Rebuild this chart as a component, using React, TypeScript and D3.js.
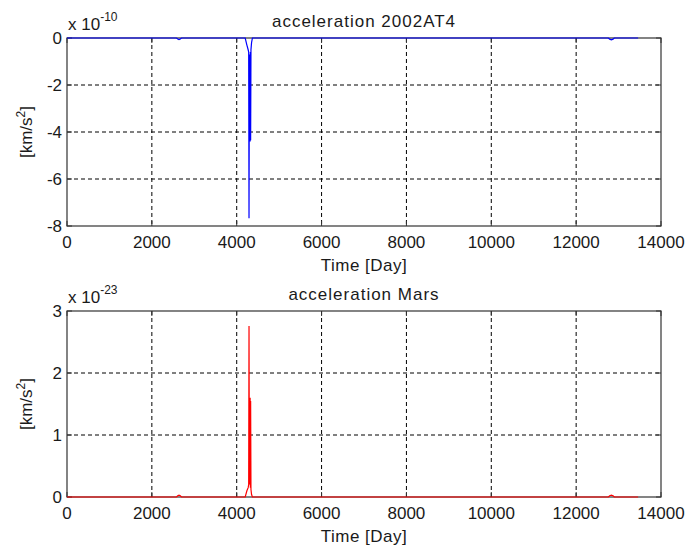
import React from "react";
import * as d3 from "d3";

// x ticks (days)
const xTicks = [0, 2000, 4000, 6000, 8000, 10000, 12000, 14000];

// top panel: acceleration 2002AT4 (units 1e-10 km/s^2)
const topDays = [0, 2580, 2610, 2640, 2670, 2700, 4200, 4240, 4270, 4282, 4290, 4298, 4304, 4310, 4316, 4322, 4328, 4336, 4350, 4370, 12760, 12790, 12830, 12870, 12900, 13460];
const topVals = [0, 0, -0.04, -0.07, -0.04, 0, 0, -0.3, -0.5, -0.6, -7.67, -0.8, -4.4, -0.7, -4.4, -0.6, -4.35, -0.5, -0.2, 0, 0, -0.05, -0.08, -0.05, 0, 0];
const topYTicks = [0, -2, -4, -6, -8];

// bottom panel: acceleration Mars (units 1e-23 km/s^2)
const botDays = [0, 2580, 2610, 2640, 2670, 2700, 4200, 4240, 4270, 4282, 4290, 4298, 4304, 4310, 4316, 4322, 4328, 4336, 4350, 4370, 12760, 12790, 12830, 12870, 12900, 13460];
const botVals = [0, 0, 0.02, 0.03, 0.02, 0, 0, 0.1, 0.15, 0.2, 2.76, 0.2, 1.6, 0.2, 1.6, 0.15, 1.55, 0.12, 0.04, 0, 0, 0.02, 0.03, 0.02, 0, 0];
const botYTicks = [0, 1, 2, 3];

const FONT = "'Liberation Sans', Arial, sans-serif";
const TXT = "#1a1a1a";
const AX = "#333";

type PanelProps = {
  top: number;
  bottom: number;
  title: string;
  exp: string;
  days: number[];
  vals: number[];
  yTicks: number[];
  yDomain: [number, number];
  color: string;
};

function Panel({ top, bottom, title, exp, days, vals, yTicks, yDomain, color }: PanelProps) {
  const left = 67;
  const right = 661;
  const x = d3.scaleLinear().domain([0, 14000]).range([left, right]);
  const y = d3.scaleLinear().domain(yDomain).range([bottom, top]);
  const pts = days.map((d, i) => [d, vals[i]] as [number, number]);
  const line = d3
    .line<[number, number]>()
    .x((d) => x(d[0]))
    .y((d) => y(d[1]));
  const tl = 5;
  const midY = (top + bottom) / 2;
  return (
    <g>
      {/* grid */}
      {xTicks.slice(1, -1).map((t) => (
        <line key={"gx" + t} x1={x(t)} x2={x(t)} y1={top} y2={bottom} stroke="#000" strokeWidth={1} strokeDasharray="4,3" />
      ))}
      {yTicks
        .filter((t) => y(t) > top + 1 && y(t) < bottom - 1)
        .map((t) => (
          <line key={"gy" + t} x1={left} x2={right} y1={y(t)} y2={y(t)} stroke="#000" strokeWidth={1} strokeDasharray="4,3" />
        ))}
      {/* box */}
      <rect x={left} y={top} width={right - left} height={bottom - top} fill="none" stroke={AX} strokeWidth={1.2} />
      {/* ticks */}
      {xTicks.map((t) => (
        <g key={"tx" + t}>
          <line x1={x(t)} x2={x(t)} y1={bottom} y2={bottom - tl} stroke={AX} />
          <line x1={x(t)} x2={x(t)} y1={top} y2={top + tl} stroke={AX} />
          <text x={x(t)} y={bottom + 22} textAnchor="middle" fontFamily={FONT} fontSize={17} fill={TXT}>
            {t}
          </text>
        </g>
      ))}
      {yTicks.map((t) => (
        <g key={"ty" + t}>
          <line x1={left} x2={left + tl} y1={y(t)} y2={y(t)} stroke={AX} />
          <line x1={right} x2={right - tl} y1={y(t)} y2={y(t)} stroke={AX} />
          <text x={left - 5} y={y(t)} dy="0.36em" textAnchor="end" fontFamily={FONT} fontSize={17} fill={TXT}>
            {t}
          </text>
        </g>
      ))}
      {/* data */}
      <path d={line(pts) || ""} fill="none" stroke={color} strokeWidth={1.2} />
      {/* title */}
      <text x={(left + right) / 2} y={top - 11} textAnchor="middle" fontFamily={FONT} fontSize={17} letterSpacing={1} fill={TXT}>
        {title}
      </text>
      {/* exponent */}
      <text x={left + 1} y={top - 8} fontFamily={FONT} fontSize={17} fill={TXT}>
        x 10
        <tspan dy={-9} fontSize={12}>
          {exp}
        </tspan>
      </text>
      {/* x label */}
      <text x={(left + right) / 2} y={bottom + 45} textAnchor="middle" fontFamily={FONT} fontSize={17} letterSpacing={0.5} fill={TXT}>
        Time [Day]
      </text>
      {/* y label */}
      <text
        transform={`translate(32,${midY}) rotate(-90)`}
        textAnchor="middle"
        fontFamily={FONT}
        fontSize={17}
        fill={TXT}
      >
        [km/s
        <tspan dy={-7} fontSize={12}>
          2
        </tspan>
        <tspan dy={7}>]</tspan>
      </text>
    </g>
  );
}

export default function App() {
  return (
    <svg
      width={689}
      height={553}
      style={{ position: "absolute", left: 0, top: 0, background: "#fff" }}
    >
      <rect width={689} height={553} fill="#fff" />
      <Panel
        top={38}
        bottom={226}
        title="acceleration 2002AT4"
        exp="-10"
        days={topDays}
        vals={topVals}
        yTicks={topYTicks}
        yDomain={[-8, 0]}
        color="#0000ff"
      />
      <Panel
        top={311}
        bottom={497}
        title="acceleration Mars"
        exp="-23"
        days={botDays}
        vals={botVals}
        yTicks={botYTicks}
        yDomain={[0, 3]}
        color="#ff0000"
      />
    </svg>
  );
}
